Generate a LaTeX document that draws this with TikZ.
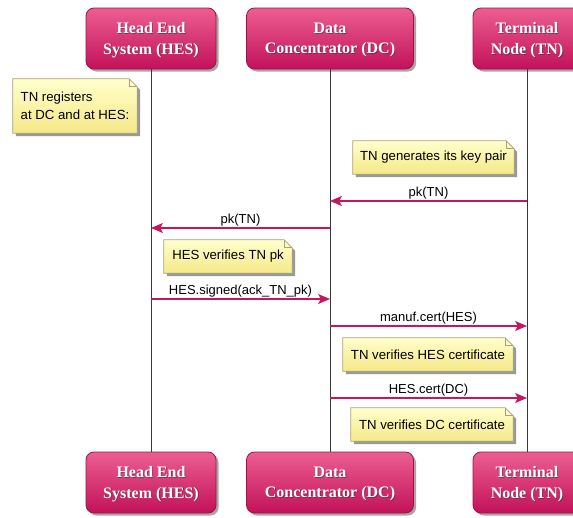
\documentclass[tikz,border=0pt]{standalone}
\usepackage{fontspec}
\setmainfont{Liberation Serif}
\newfontfamily\notefont{Liberation Sans}
\usetikzlibrary{arrows.meta,shadows,calc,backgrounds}

\definecolor{actortop}{HTML}{EC5E90}
\definecolor{actorbot}{HTML}{C2125A}
\definecolor{actorline}{HTML}{A50F48}
\definecolor{msgcol}{HTML}{C8155F}
\definecolor{notetop}{HTML}{FFFFCC}
\definecolor{notebot}{HTML}{F5E887}
\definecolor{noteline}{HTML}{A8A27C}
\definecolor{lifecol}{HTML}{383838}

\tikzset{
  actorbox/.style={rectangle, rounded corners=8pt, minimum width=#1,
    minimum height=61pt, top color=actortop, bottom color=actorbot,
    draw=actorline, line width=0.8pt, inner sep=0pt,
    drop shadow={shadow xshift=2.5pt, shadow yshift=-2.5pt,
      fill=black, opacity=0.35}},
  actorfont/.style={font=\fontsize{16}{20.5}\selectfont\bfseries,
    align=center, inner sep=0pt},
  actortext/.style={actorfont, text=white},
  actorglow/.style={actorfont, text=black!80, opacity=0.55},
  lifeline/.style={draw=lifecol, line width=0.9pt},
  msg/.style={draw=msgcol, line width=1.2pt,
    -{Stealth[length=12pt,width=10pt,inset=3pt]}},
  msglabel/.style={font=\notefont\fontsize{13}{15}\selectfont,
    inner sep=1.2pt, above},
  notebox/.style={rectangle, minimum width=#1, minimum height=33pt,
    inner sep=0pt, align=left, font=\notefont\fontsize{13.2}{18}\selectfont},
}

% background of a note: shadow, folded-corner body and fold line
\newcommand\notebg[1]{%
  \fill[black, opacity=0.4]
    ($(#1.north west)+(3,3)$) -- ($(#1.north east)+(-5,3)$)
    -- ($(#1.north east)+(3,11)$) -- ($(#1.south east)+(3,3)$)
    -- ($(#1.south west)+(3,3)$) -- cycle;
  \shade[top color=notetop, bottom color=notebot, draw=noteline, line width=0.7pt]
    (#1.north west) -- ($(#1.north east)+(-8,0)$)
    -- ($(#1.north east)+(0,8)$) -- (#1.south east)
    -- (#1.south west) -- cycle;
  \draw[noteline, line width=0.7pt]
    ($(#1.north east)+(-8,0)$) -- ($(#1.north east)+(-8,8)$)
    -- ($(#1.north east)+(0,8)$);
}

% participant box with shadowed white title
\newcommand\participant[5]{%
  \node[actorbox=#4] (#1) at (#2,#3) {};
  \node[actorglow] (#1Glow) at ($(#1)+(0.9,2.4)$) {#5};
  \node[actortext] (#1Title) at ($(#1)+(0,1.5)$) {#5};
}

\begin{document}
\begin{tikzpicture}[x=1pt, y=-1pt]
  \useasboundingbox (0,0) rectangle (573,517);
  \clip (0,0) rectangle (573,517);

  % participants, top and bottom
  \participant{hesTop}{151}{38.5}{130pt}{Head End\\System (HES)}
  \participant{dcTop}{330}{38.5}{167pt}{Data\\Concentrator (DC)}
  \participant{tnTop}{527}{38.5}{108pt}{Terminal\\Node (TN)}
  \participant{hesBot}{151}{482.5}{130pt}{Head End\\System (HES)}
  \participant{dcBot}{330}{482.5}{167pt}{Data\\Concentrator (DC)}
  \participant{tnBot}{527}{482.5}{108pt}{Terminal\\Node (TN)}

  % lifelines
  \draw[lifeline] (hesTop.south) -- (hesBot.north);
  \draw[lifeline] (dcTop.south) -- (dcBot.north);
  \draw[lifeline] (tnTop.south) -- (tnBot.north);

  % notes
  \node[notebox=124pt, minimum height=54pt] (nReg) at (75,106)
    {TN registers\\at DC and at HES:};
  \node[notebox=161pt] (nGen) at (433.5,157.5) {TN generates its key pair};
  \node[notebox=128pt] (nHes) at (228,256.5) {HES verifies TN pk};
  \node[notebox=170pt] (nCertH) at (428,354.5) {TN verifies HES certificate};
  \node[notebox=162pt] (nCertD) at (432,424.5) {TN verifies DC certificate};
  \begin{scope}[on background layer]
    \fill[white] (0,0) rectangle (573,517);
    \notebg{nReg}
    \notebg{nGen}
    \notebg{nHes}
    \notebg{nCertH}
    \notebg{nCertD}
  \end{scope}

  % message rows
  \coordinate (r1) at (0,201);
  \coordinate (r2) at (0,228);
  \coordinate (r3) at (0,299);
  \coordinate (r4) at (0,326);
  \coordinate (r5) at (0,398);

  \draw[msg] (tnTop |- r1) -- node[msglabel] {pk(TN)} (dcTop |- r1);
  \draw[msg] (dcTop |- r2) -- node[msglabel] {pk(TN)} (hesTop |- r2);
  \draw[msg] (hesTop |- r3) -- node[msglabel] {HES.signed(ack\_TN\_pk)} (dcTop |- r3);
  \draw[msg] (dcTop |- r4) -- node[msglabel] {manuf.cert(HES)} (tnTop |- r4);
  \draw[msg] (dcTop |- r5) -- node[msglabel] {HES.cert(DC)} (tnTop |- r5);
\end{tikzpicture}
\end{document}
